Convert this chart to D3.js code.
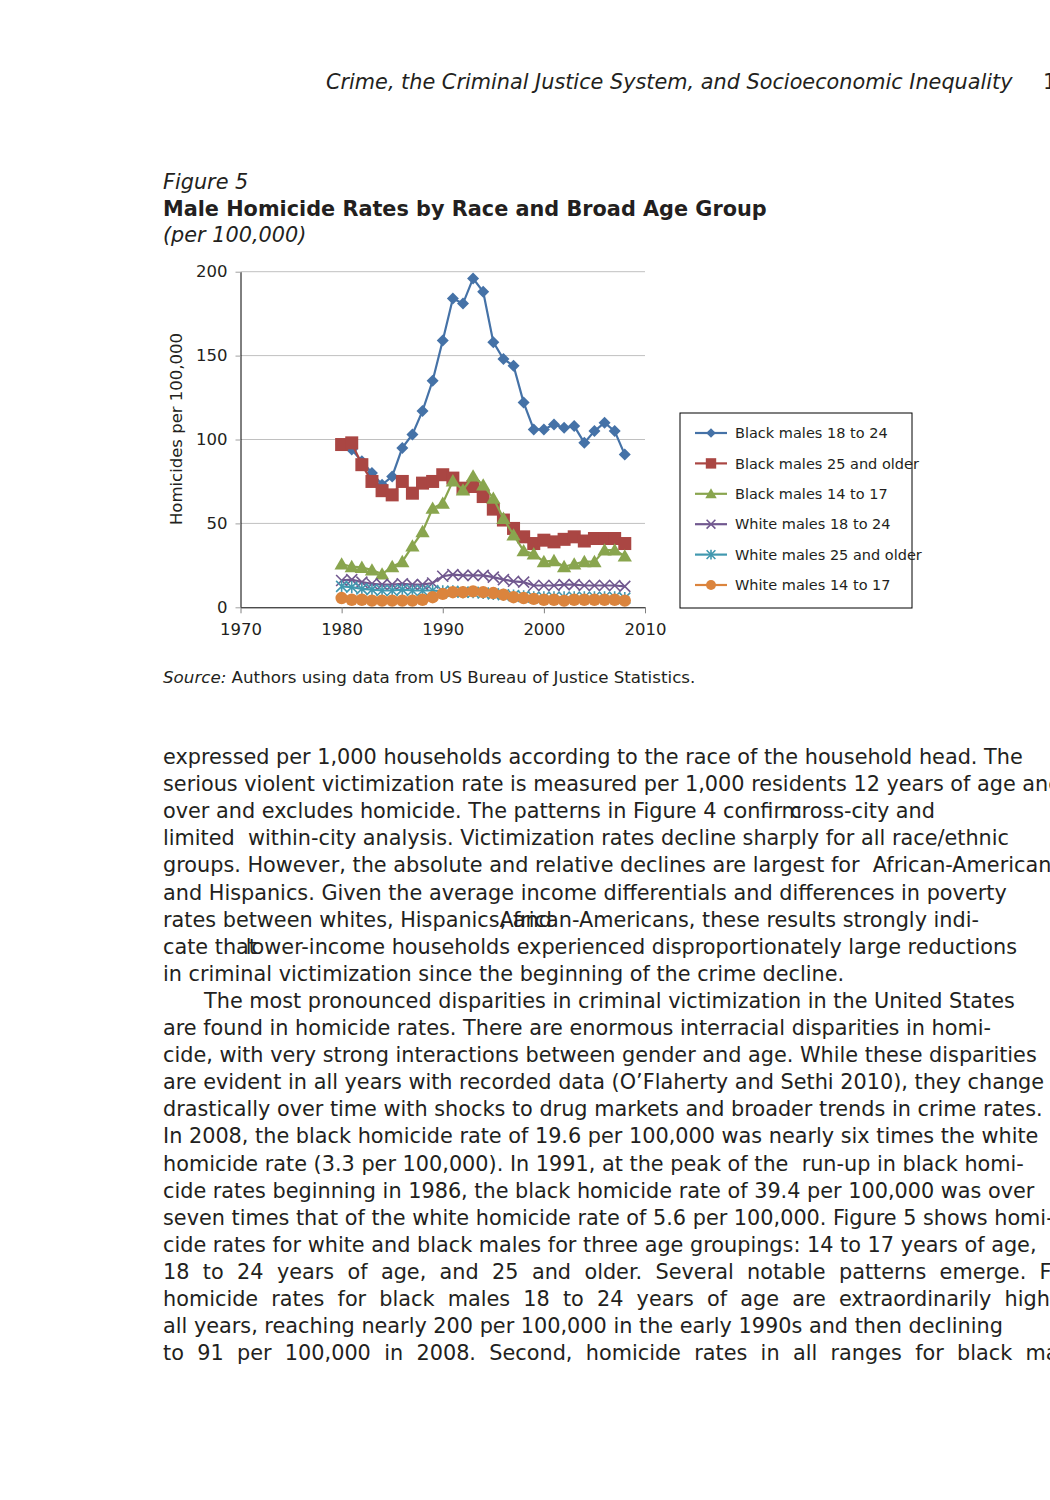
<!DOCTYPE html>
<html>
<head>
<meta charset="utf-8">
<script src="https://cdn.jsdelivr.net/npm/d3@7"></script>
<style>
  html, body { margin: 0; padding: 0; background: #fff; }
  svg text { font-family: "DejaVu Sans", sans-serif; fill: #231f20; white-space: pre; }
</style>
</head>
<body>
<svg id="page" width="1050" height="1500"></svg>
<script>
// ---------- data ----------
const years = [1980,1981,1982,1983,1984,1985,1986,1987,1988,1989,1990,1991,1992,1993,1994,1995,1996,1997,1998,1999,2000,2001,2002,2003,2004,2005,2006,2007,2008];
const blackMales18to24 = [97,94,87,80,73,78,95,103,117,135,159,184,181,196,188,158,148,144,122,106,106,109,107,108,98,105,110,105,91];
const blackMales25up   = [97,98,85,75,69.5,67,75,68,74,75,79,77,71,72,66,58.5,52,47,42,38,40,39,40.5,42,39.5,41,41,41,38];
const blackMales14to17 = [25.8,24.2,23.8,22.2,19.8,24.2,27.2,36.5,45.1,59,62,75.3,69.9,78.2,72.9,65,53,43.1,33.7,31.8,27.2,27.8,24.2,25.8,27.2,27.2,34.1,34.1,30.6];
const whiteMales18to24 = [16,16.5,15,14,13.5,13.5,14,13.5,13.5,14.5,18.5,19.5,19,19,19,18,16.5,15.5,15,13,13,13,13.5,13.5,13,13,13,13,12.5];
const whiteMales25up   = [12.5,12,11,10.5,10,10,10.5,10,10,10,9.5,9.5,9,9,8.5,8,7.5,7,6.5,6,6,6,6,6,6,6,6,6,5.5];
const whiteMales14to17 = [5.5,4.5,4.5,4,4,4,4,4,4.5,6,8,9,9,9.5,9,8.5,7.5,6,5.5,5,4.5,4.5,4,4.5,4.5,4.5,4.5,4.5,4];
const seriesNames = ["Black males 18 to 24","Black males 25 and older","Black males 14 to 17","White males 18 to 24","White males 25 and older","White males 14 to 17"];
const xTicks = [1970,1980,1990,2000,2010];
const yTicks = [0,50,100,150,200];

const seriesValues = [blackMales18to24, blackMales25up, blackMales14to17, whiteMales18to24, whiteMales25up, whiteMales14to17];
const colors = ["#4572A7","#AA4643","#89A54E","#71588F","#4198AF","#DB843D"];
const shapes = ["diamond","square","triangle","x","asterisk","circle"];

const svg = d3.select("#page");
const FS = 20.8;

// ---------- header & titles ----------
svg.append("text").attr("x",326).attr("y",89).attr("font-size",FS).attr("font-style","italic")
  .text("Crime, the Criminal Justice System, and Socioeconomic Inequality");
svg.append("text").attr("x",1043).attr("y",89).attr("font-size",FS).text("1");
svg.append("text").attr("x",163).attr("y",189).attr("font-size",FS).attr("font-style","italic").text("Figure 5");
svg.append("text").attr("x",163).attr("y",216).attr("font-size",FS).attr("font-weight","bold")
  .text("Male Homicide Rates by Race and Broad Age Group");
svg.append("text").attr("x",163).attr("y",242).attr("font-size",FS).attr("font-style","italic").text("(per 100,000)");

// ---------- chart ----------
const x = d3.scaleLinear().domain([1970,2010]).range([240.5,645]);
const y = d3.scaleLinear().domain([0,200]).range([607.3,271.7]);

const g = svg.append("g");
// gridlines
g.selectAll(".grid").data(yTicks.filter(d=>d>0)).join("line")
  .attr("x1",x(1970)).attr("x2",x(2010)).attr("y1",d=>y(d)).attr("y2",d=>y(d))
  .attr("stroke","#c0c0c0").attr("stroke-width",1);

// y axis
const yAxis = g.append("g").attr("transform",`translate(${x(1970)},0)`)
  .call(d3.axisLeft(y).tickValues(yTicks).tickSize(5).tickSizeOuter(0).tickPadding(8));
yAxis.select(".domain").attr("stroke","#000");
yAxis.selectAll(".tick line").attr("stroke","#a0a0a0");
yAxis.selectAll(".tick text").attr("font-size",16.5).attr("font-family","DejaVu Sans").attr("fill","#231f20");

// x axis
const xAxis = g.append("g").attr("transform",`translate(0,${y(0)})`)
  .call(d3.axisBottom(x).tickValues(xTicks).tickFormat(d3.format("d")).tickSize(6).tickSizeOuter(0).tickPadding(10));
xAxis.select(".domain").attr("stroke","#000");
xAxis.selectAll(".tick line").attr("stroke","#808080");
xAxis.selectAll(".tick text").attr("font-size",16.5).attr("font-family","DejaVu Sans").attr("fill","#231f20");

// y axis title
svg.append("text").attr("transform",`translate(182,429) rotate(-90)`).attr("text-anchor","middle")
  .attr("font-size",16.5).text("Homicides per 100,000");

// marker drawing
function drawMarker(sel, shape, color, s) {
  if (shape === "diamond") {
    sel.append("path").attr("d",`M0,${-s}L${s},0L0,${s}L${-s},0Z`).attr("fill",color);
  } else if (shape === "square") {
    sel.append("rect").attr("x",-s).attr("y",-s).attr("width",2*s).attr("height",2*s).attr("fill",color);
  } else if (shape === "triangle") {
    sel.append("path").attr("d",`M0,${-s*1.05}L${s*1.1},${s*0.85}L${-s*1.1},${s*0.85}Z`).attr("fill",color);
  } else if (shape === "x") {
    sel.append("path").attr("d",`M${-s},${-s}L${s},${s}M${-s},${s}L${s},${-s}`).attr("stroke",color).attr("stroke-width",1.6).attr("fill","none");
  } else if (shape === "asterisk") {
    sel.append("path").attr("d",`M${-s},${-s}L${s},${s}M${-s},${s}L${s},${-s}M0,${-s*1.1}L0,${s*1.1}`).attr("stroke",color).attr("stroke-width",1.6).attr("fill","none");
  } else if (shape === "circle") {
    sel.append("circle").attr("r",s).attr("fill",color);
  }
}
const markerSize = {diamond:6, square:6.5, triangle:6.5, x:5.5, asterisk:5.5, circle:6.2};

const line = d3.line().x((d,i)=>x(years[i])).y(d=>y(d));
seriesValues.forEach((vals, si) => {
  const sg = g.append("g");
  sg.append("path").datum(vals).attr("d",line).attr("fill","none")
    .attr("stroke",colors[si]).attr("stroke-width",2.2);
  sg.selectAll(".m").data(vals).join("g")
    .attr("transform",(d,i)=>`translate(${x(years[i])},${y(d)})`)
    .each(function(){ drawMarker(d3.select(this), shapes[si], colors[si], markerSize[shapes[si]]); });
});

// legend
const lg = svg.append("g");
lg.append("rect").attr("x",680).attr("y",413).attr("width",232).attr("height",195)
  .attr("fill","#fff").attr("stroke","#000").attr("stroke-width",1);
const legY = d3.scaleLinear().domain([0,5]).range([433,585]);
seriesNames.forEach((name, i) => {
  const row = lg.append("g").attr("transform",`translate(0,${legY(i)})`);
  row.append("line").attr("x1",695).attr("x2",727).attr("stroke",colors[i]).attr("stroke-width",2.2);
  drawMarker(row.append("g").attr("transform","translate(711,0)"), shapes[i], colors[i], markerSize[shapes[i]]*0.8);
  row.append("text").attr("x",735).attr("dy","0.36em").attr("font-size",14.5).text(name);
});

// source
const src = svg.append("text").attr("x",163).attr("y",683).attr("font-size",16.7);
src.append("tspan").attr("font-style","italic").text("Source:");
src.append("tspan").text(" Authors using data from US Bureau of Justice Statistics.");

// ---------- body text ----------
const bodyLines = [
  {t:"expressed per 1,000 households according to the race of the household head. The"},
  {t:"serious violent victimization rate is measured per 1,000 residents 12 years of age and"},
  {t:"over and excludes homicide. The patterns in Figure 4 confirm", over:"cross-city and", overEnd:935},
  {t:"limited  within-city analysis. Victimization rates decline sharply for all race/ethnic"},
  {t:"groups. However, the absolute and relative declines are largest for  African-Americans"},
  {t:"and Hispanics. Given the average income differentials and differences in poverty"},
  {t:"rates between whites, Hispanics, and", over:"African-Americans, these results strongly indi-", overEnd:979},
  {t:"cate that", over:"lower-income households experienced disproportionately large reductions", overEnd:1017},
  {t:"in criminal victimization since the beginning of the crime decline."},
  {t:"The most pronounced disparities in criminal victimization in the United States", indent:41},
  {t:"are found in homicide rates. There are enormous interracial disparities in homi-"},
  {t:"cide, with very strong interactions between gender and age. While these disparities"},
  {t:"are evident in all years with recorded data (O\u2019Flaherty and Sethi 2010), they change"},
  {t:"drastically over time with shocks to drug markets and broader trends in crime rates."},
  {t:"In 2008, the black homicide rate of 19.6 per 100,000 was nearly six times the white"},
  {t:"homicide rate (3.3 per 100,000). In 1991, at the peak of the  run-up in black homi-"},
  {t:"cide rates beginning in 1986, the black homicide rate of 39.4 per 100,000 was over"},
  {t:"seven times that of the white homicide rate of 5.6 per 100,000. Figure 5 shows homi-"},
  {t:"cide rates for white and black males for three age groupings: 14 to 17 years of age,"},
  {t:"18 to 24 years of age, and 25 and older. Several notable patterns emerge. First,", justify:1090},
  {t:"homicide rates for black males 18 to 24 years of age are extraordinarily high in", justify:1082},
  {t:"all years, reaching nearly 200 per 100,000 in the early 1990s and then declining"},
  {t:"to 91 per 100,000 in 2008. Second, homicide rates in all ranges for black males", justify:1088}
];
const bodyY = d3.scaleLinear().domain([0,1]).range([764,791.1]);
bodyLines.forEach((L, i) => {
  const t = svg.append("text").attr("x",163 + (L.indent||0)).attr("y",bodyY(i)).attr("font-size",FS).text(L.t);
  if (L.justify) {
    const natural = t.node().getComputedTextLength();
    const gaps = L.t.split(" ").length - 1;
    const extra = (L.justify - 163 - natural) / gaps;
    t.attr("word-spacing", extra);
  }
  if (L.over) {
    svg.append("text").attr("x",L.overEnd).attr("y",bodyY(i)).attr("font-size",FS)
      .attr("text-anchor","end").text(L.over);
  }
});
</script>
</body>
</html>
